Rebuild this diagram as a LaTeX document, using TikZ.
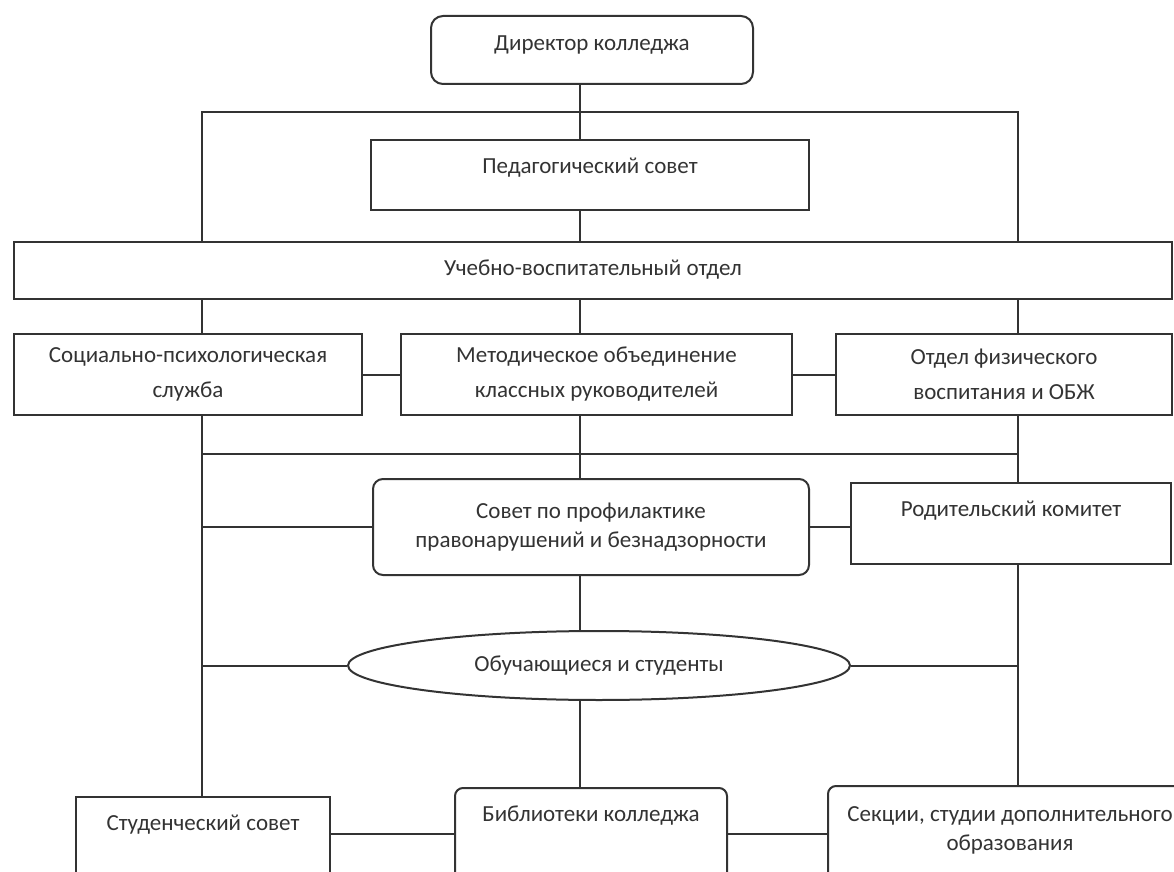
\documentclass[tikz,border=0pt]{standalone}
\usepackage{fontspec}
\setmainfont{Carlito}
\usetikzlibrary{shapes.geometric}
\begin{document}
\begin{tikzpicture}[x=0.5pt,y=-0.5pt,line width=1pt,color=black!80,
    every node/.style={font=\fontsize{11.5}{14.5}\selectfont},
    box/.style={draw,inner sep=0pt,align=center,anchor=north west},
    rbox/.style={box,rounded corners=6pt},
    oval/.style={draw,ellipse,inner sep=0pt,font=\fontsize{11.5}{14.5}\selectfont}]
  \useasboundingbox (0,0) rectangle (1174,872);
  \clip (0,0) rectangle (1174,872);
  \node[rbox,minimum width=161pt,text height=17.5pt,text depth=16.5pt] (dir) at (430,15) {Директор колледжа};
  \node[box,minimum width=219pt,text height=17pt,text depth=18pt] (ped) at (370,139) {Педагогический совет};
  \node[box,minimum width=579pt,text height=17pt,text depth=11.5pt] (uvo) at (13,241) {Учебно-воспитательный отдел};
  \node[box,minimum width=174pt,minimum height=40.5pt] (soc) at (13,333) {Социально-психологическая\\[3pt]служба};
  \node[box,minimum width=195.5pt,minimum height=40.5pt] (met) at (400,333) {Методическое объединение\\[3pt]классных руководителей};
  \node[box,minimum width=168pt,minimum height=40.5pt] (fiz) at (835,333) {Отдел физического\\[3pt]воспитания и ОБЖ};
  \node[rbox,rounded corners=5pt,minimum width=218pt,minimum height=48pt] (sov) at (372,478) {Совет по профилактике\\правонарушений и безнадзорности};
  \node[box,minimum width=160pt,text height=16.5pt,text depth=24pt] (rod) at (850,482) {Родительский комитет};
  \node[oval,minimum width=251pt,minimum height=34.5pt] (ell) at (599,665.5) {Обучающиеся и студенты};
  \node[box,minimum width=127pt,text height=16.5pt,text depth=60pt] (stud) at (75,796) {Студенческий совет};
  \node[rbox,rounded corners=4pt,minimum width=136pt,text height=16.5pt,text depth=60pt] (bib) at (454,787) {Библиотеки колледжа};
  \node[rbox,rounded corners=4pt,minimum width=182pt,text height=32pt,text depth=40pt] (sek) at (827,785) {Секции, студии дополнительного\\образования};
  \coordinate (sp) at (580,0);
  \coordinate (lx) at (202,0);
  \coordinate (rx) at (1018,0);
  \coordinate (bus1) at (580,112);
  \coordinate (bus2) at (580,454);
  \coordinate (bus3) at (580,834);
  \draw (dir.south -| sp) -- (ped.north -| sp);
  \draw (ped.south -| sp) -- (uvo.north -| sp);
  \draw (lx |- uvo.north) |- (bus1) -| (rx |- uvo.north);
  \foreach \n/\c in {soc/lx,met/sp,fiz/rx}
    \draw (uvo.south -| \c) -- (\n.north -| \c);
  \draw (soc.east) -- (soc.east -| met.west);
  \draw (met.east) -- (met.east -| fiz.west);
  \draw (soc.south -| lx) -- (stud.north -| lx);
  \draw (met.south -| sp) -- (sov.north -| sp);
  \draw (fiz.south -| rx) -- (rod.north -| rx);
  \draw (rod.south -| rx) -- (sek.north -| rx);
  \draw (lx |- bus2) -- (rx |- bus2);
  \draw (sov.west) -- (sov.west -| lx);
  \draw (sov.east) -- (sov.east -| rod.west);
  \draw (ell.west) -- (ell.west -| lx);
  \draw (ell.east) -- (ell.east -| rx);
  \draw (sov.south -| sp) -- (ell.north -| sp);
  \draw (ell.south -| sp) -- (bib.north -| sp);
  \draw (stud.east |- bus3) -- (bib.west |- bus3);
  \draw (bib.east |- bus3) -- (sek.west |- bus3);
\end{tikzpicture}
\end{document}
